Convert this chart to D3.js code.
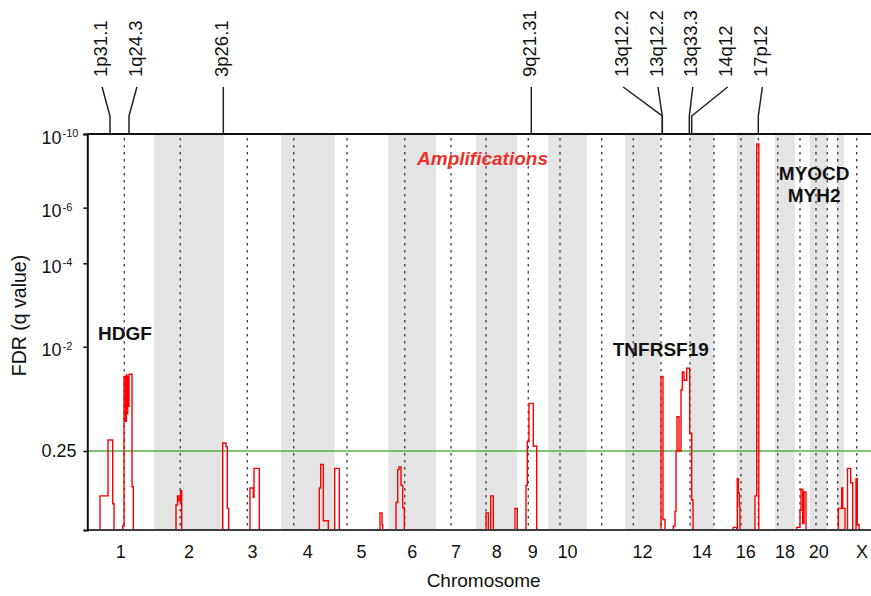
<html>
  <head>
    <title>GISTIC amplifications</title>
    <script src="https://cdnjs.cloudflare.com/ajax/libs/d3/7.8.5/d3.min.js"></script>
    <style type="text/css">
        * {
            padding: 0px;
            margin: 0px;
        }
        body {
            background: #fff;
        }
        svg text {
            font-family: "Liberation Sans", Arial, sans-serif;
        }
    </style>
  </head>
  <body>
    <svg id="viz"></svg>
  </body>
</html>

<script>

    // chromosome layout (relative marker units), centromere offset inside each chromosome
    var chromNames = ["1","2","3","4","5","6","7","8","9","10","11","12",
                      "13","14","15","16","17","18","19","20","21","22","X"];
    var chromSize  = [667, 700, 570, 537, 536, 477, 400, 413, 310, 384, 383, 350,
                      300, 240, 227, 183, 200, 200, 150, 173, 94, 73, 360];
    var centromere = [370, 263, 233, 127, 123, 164, 150, 100, 110, 117, 150, 83,
                      10, 0, 0, 43, 33, 27, 50, 60, 0, 10, 127];
    var chromTicks = ["1","2","3","4","5","6","7","8","9","10","12","14","16","18","20","X"];

    // amplification segments: [start, end, -log10(q)] in genome units
    var ampSegments = [
        [127, 207, 0.26], [207, 254, 0.75], [254, 267, 0.20],
        [354, 367, 0.03], [367, 382, 1.60], [382, 390, 1.00], [390, 397, 1.62],
        [397, 404, 1.10], [404, 410, 1.60], [410, 417, 1.20], [417, 447, 1.63], [447, 460, 0.33],
        [887, 902, 0.19], [902, 917, 0.26], [917, 932, 0.22], [932, 944, 0.30],
        [1354, 1387, 0.71], [1387, 1400, 0.66], [1400, 1414, 0.165],
        [1627, 1660, 0.32], [1660, 1667, 0.25], [1667, 1720, 0.47],
        [2320, 2334, 0.32], [2334, 2360, 0.50], [2360, 2410, 0.07],
        [2474, 2520, 0.47],
        [2927, 2947, 0.13], [2947, 2954, 0.04],
        [3087, 3104, 0.21], [3104, 3117, 0.46], [3117, 3137, 0.48], [3137, 3154, 0.34], [3154, 3170, 0.17],
        [3987, 4010, 0.13], [4034, 4060, 0.26], [4277, 4300, 0.165],
        [4387, 4400, 0.34], [4400, 4417, 0.73], [4417, 4460, 1.24], [4460, 4494, 0.67],
        [5737, 5757, 1.60], [5757, 5777, 0.08],
        [5860, 5877, 0.03], [5877, 5887, 0.14], [5887, 5897, 0.60], [5897, 5917, 1.06],
        [5917, 5937, 0.60], [5937, 5950, 1.42], [5950, 5967, 1.66], [5967, 5994, 1.55],
        [5994, 6024, 1.71], [6024, 6044, 0.84], [6044, 6057, 0.23],
        [6460, 6494, 0.02], [6500, 6510, 0.39], [6510, 6520, 0.28], [6520, 6527, 0.18],
        [6677, 6694, 0.26], [6694, 6715, 9.46],
        [7094, 7127, 0.02], [7127, 7137, 0.15], [7137, 7154, 0.31], [7154, 7167, 0.05], [7167, 7187, 0.29],
        [7510, 7544, 0.165], [7544, 7554, 0.32], [7554, 7577, 0.165],
        [7602, 7634, 0.47], [7634, 7654, 0.36],
        [7687, 7700, 0.39], [7700, 7717, 0.04]
    ];

    // peak cytobands and their genome position
    var cytobands = ["1p31.1", "1q24.3", "3p26.1", "9q21.31", "13q12.2", "13q12.2", "13q33.3", "14q12", "17p12"];
    var cytoPos   = [227, 417, 1360, 4440, 5750, 5750, 6020, 6044, 6710];

    var qTicks = [1e-10, 1e-6, 1e-4, 1e-2, 0.25];
    var qThreshold = 0.25;

    var W = 871, H = 596;
    // note: "top" is taken by window.top, so plot edges get their own names
    var plotLeft = 87.3, plotRight = 880, plotTop = 134, plotBottom = 530;
    var ph = plotBottom - plotTop;

    var svg = d3.select("#viz")
        .attr("width", W)
        .attr("height", H);

    var chromStart = [], acc = 0;
    chromSize.forEach(function(s) { chromStart.push(acc); acc += s; });
    var genomeLen = acc;

    var x = d3.scaleLinear().domain([0, genomeLen]).range([plotLeft, plotRight]);

    // the q axis of the original is stretched piecewise
    var y = d3.scaleLinear()
        .domain([0, -Math.log10(0.25), 2, 4, 6, 10])
        .range([0, 0.1995, 0.463, 0.6735, 0.814, 1].map(function(f) { return plotBottom - f * ph; }));

    // alternating chromosome bands
    svg.append("g").selectAll("rect")
        .data(chromNames.map(function(n, i) { return i; }).filter(function(i) { return i % 2 == 1; }))
        .enter().append("rect")
        .attr("x", function(i) { return x(chromStart[i]); })
        .attr("width", function(i) { return x(chromStart[i] + chromSize[i]) - x(chromStart[i]); })
        .attr("y", plotTop)
        .attr("height", ph)
        .attr("fill", "#e4e4e4");

    // centromeres
    svg.append("g").selectAll("line")
        .data(centromere)
        .enter().append("line")
        .attr("x1", function(c, i) { return x(chromStart[i] + c); })
        .attr("x2", function(c, i) { return x(chromStart[i] + c); })
        .attr("y1", plotTop + 4)
        .attr("y2", plotBottom)
        .attr("stroke", "#4a4a4a")
        .attr("stroke-width", 1.4)
        .attr("stroke-dasharray", "2.5,4.5");

    // threshold
    svg.append("line")
        .attr("x1", plotLeft).attr("x2", W)
        .attr("y1", y(-Math.log10(qThreshold))).attr("y2", y(-Math.log10(qThreshold)))
        .attr("stroke", "#55b04a")
        .attr("stroke-width", 1.5);

    // step trace
    var pts = [[0, 0]], prevEnd = 0;
    ampSegments.forEach(function(s) {
        if (s[0] > prevEnd) pts.push([prevEnd, 0]);
        pts.push([s[0], s[2]]);
        prevEnd = s[1];
    });
    pts.push([prevEnd, 0]);
    pts.push([genomeLen, 0]);

    var trace = d3.line()
        .x(function(p) { return x(p[0]); })
        .y(function(p) { return y(p[1]); })
        .curve(d3.curveStepAfter);

    svg.append("path")
        .attr("d", trace(pts))
        .attr("fill", "none")
        .attr("stroke", "#ff0000")
        .attr("stroke-width", 1.4);

    // frame
    svg.append("line")
        .attr("x1", plotLeft).attr("x2", W).attr("y1", plotTop).attr("y2", plotTop)
        .attr("stroke", "#111").attr("stroke-width", 2);
    svg.append("line")
        .attr("x1", plotLeft).attr("x2", W).attr("y1", plotBottom).attr("y2", plotBottom)
        .attr("stroke", "#3c3c3c").attr("stroke-width", 2);

    // y axis
    var yAxis = svg.append("g")
        .attr("transform", "translate(" + plotLeft + ",0)")
        .call(d3.axisLeft(y)
            .tickValues(qTicks.map(function(q) { return -Math.log10(q); }))
            .tickSize(4)
            .tickFormat(""));
    yAxis.select(".domain").attr("stroke", "#111").attr("stroke-width", 2);
    yAxis.selectAll(".tick line").attr("stroke", "#111").attr("stroke-width", 1.5);

    yAxis.selectAll(".tick").each(function(d, i) {
        var q = qTicks[i];
        var t = d3.select(this).append("text")
            .attr("x", -45.8)
            .attr("fill", "#111")
            .attr("text-anchor", "start")
            .style("font-size", "18px");
        if (q == 0.25) {
            t.attr("y", 6).text("0.25");
        } else {
            t.attr("y", 9);
            t.append("tspan").text("10");
            t.append("tspan")
                .attr("dy", -6.6)
                .attr("dx", 1)
                .style("font-size", "11px")
                .text(Math.round(Math.log10(q)));
        }
    });

    // x tick labels at chromosome centres
    svg.append("g").selectAll("text")
        .data(chromTicks)
        .enter().append("text")
        .attr("x", function(n) {
            var i = chromNames.indexOf(n);
            return x(chromStart[i] + chromSize[i] / 2);
        })
        .attr("y", 558)
        .attr("text-anchor", "middle")
        .style("font-size", "18px")
        .attr("fill", "#111")
        .text(function(n) { return n; });

    svg.append("text")
        .attr("x", (plotLeft + plotRight) / 2)
        .attr("y", 586.5)
        .attr("text-anchor", "middle")
        .style("font-size", "19px")
        .attr("fill", "#111")
        .text("Chromosome");

    svg.append("text")
        .attr("transform", "translate(26,315.5) rotate(-90)")
        .attr("text-anchor", "middle")
        .style("font-size", "19.5px")
        .attr("fill", "#111")
        .text("FDR (q value)");

    // spread cytoband labels so they don't collide, groups centred on their targets
    function spread(targets, gap) {
        var groups = targets.map(function(t) { return { sum: t, n: 1 }; });
        var start = function(g) { return g.sum / g.n - (g.n - 1) * gap / 2; };
        var merged = true;
        while (merged) {
            merged = false;
            for (var i = 0; i < groups.length - 1; i++) {
                var a = groups[i], b = groups[i + 1];
                if (start(b) - (start(a) + (a.n - 1) * gap) < gap) {
                    groups.splice(i, 2, { sum: a.sum + b.sum, n: a.n + b.n });
                    merged = true;
                    break;
                }
            }
        }
        var out = [];
        groups.forEach(function(g) {
            for (var k = 0; k < g.n; k++) out.push(start(g) + k * gap);
        });
        return out;
    }

    var targetsPx = cytoPos.map(function(p) { return x(p); });
    var labelPx = spread(targetsPx, 34.8);

    var cyto = svg.append("g");
    cytobands.forEach(function(name, i) {
        cyto.append("path")
            .attr("d", "M" + labelPx[i] + ",87L" + targetsPx[i] + ",116L" + targetsPx[i] + "," + plotTop)
            .attr("fill", "none")
            .attr("stroke", "#222")
            .attr("stroke-width", 1.5);
        cyto.append("text")
            .attr("transform", "translate(" + labelPx[i] + ",77) rotate(-90)")
            .attr("dy", "0.25em")
            .style("font-size", "18.5px")
            .attr("fill", "#111")
            .text(name);
    });

    // annotations
    svg.append("text")
        .attr("x", x(3952)).attr("y", y(8.32))
        .attr("text-anchor", "middle")
        .style("font-size", "19px")
        .style("font-weight", "bold")
        .style("font-style", "italic")
        .attr("fill", "#e8322b")
        .text("Amplifications");

    var genes = svg.append("g")
        .attr("text-anchor", "middle")
        .style("font-size", "19px")
        .style("font-weight", "bold")
        .attr("fill", "#111");
    genes.append("text").attr("x", x(377)).attr("y", y(2.16)).text("HDGF");
    genes.append("text").attr("x", x(5735)).attr("y", y(1.875)).text("TNFRSF19");
    genes.append("text").attr("x", x(7269)).attr("y", y(7.5)).text("MYOCD");
    genes.append("text").attr("x", x(7269)).attr("y", y(6.33)).text("MYH2");

</script>
